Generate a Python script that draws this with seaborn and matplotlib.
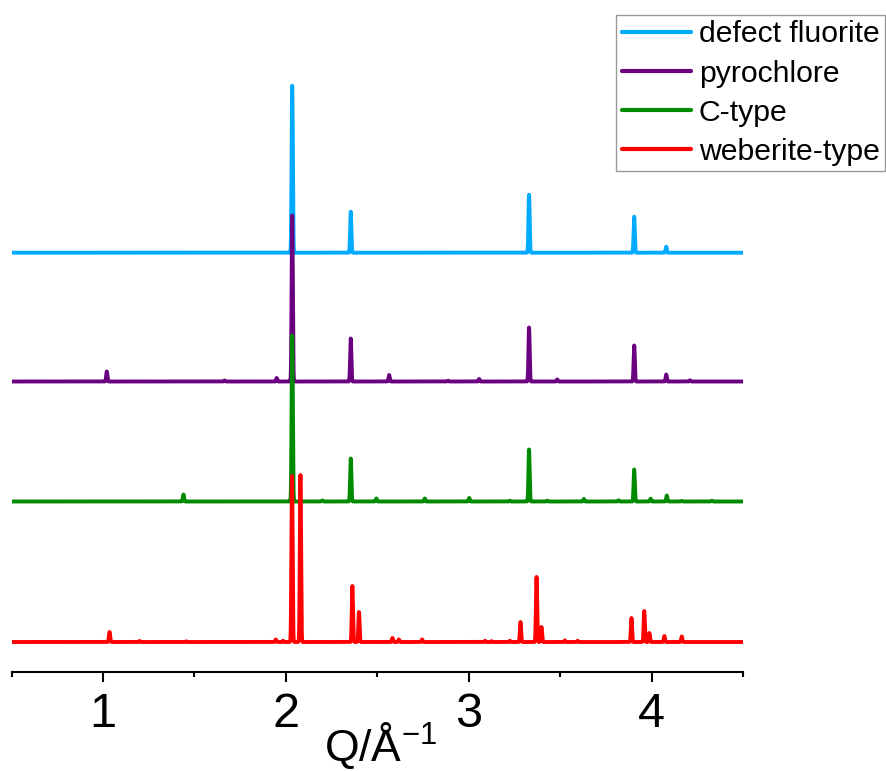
import numpy as np
import pandas as pd
import seaborn as sns
import matplotlib
matplotlib.use("Agg")
import matplotlib.pyplot as plt
from matplotlib.lines import Line2D
from matplotlib.ticker import MultipleLocator

# ---- data ----
phases = ["defect fluorite", "pyrochlore", "C-type", "weberite-type"]
colors = ["#00AAFF", "#6A0080", "#008A00", "#FF0000"]

# peak positions (Q, 1/Angstrom) and heights (arbitrary units)
fluorite_pos = [2.035, 2.355, 3.330, 3.905, 4.080]
fluorite_h = [167, 41, 58, 36, 6]

pyro_pos = [1.021, 1.665, 1.950, 2.035, 2.355, 2.565, 2.887, 3.057, 3.330, 3.484, 3.905, 4.080, 4.210]
pyro_h = [10, 1, 3.5, 166, 43, 6.5, 0.8, 2.5, 54, 2, 36, 7, 1.2]

ctype_pos = [1.440, 2.035, 2.200, 2.355, 2.495, 2.760, 3.003, 3.225, 3.330, 3.430, 3.630,
             3.820, 3.905, 3.995, 4.083, 4.165, 4.330]
ctype_h = [7, 166, 1, 43, 3, 3, 3.5, 0.8, 52, 0.8, 2.5, 1.2, 32, 2.8, 6, 0.6, 0.8]

weber_pos = [1.036, 1.200, 1.456, 1.945, 1.985, 2.034, 2.080, 2.364, 2.400, 2.583, 2.618,
             2.745, 3.090, 3.125, 3.225, 3.283, 3.371, 3.398, 3.526, 3.595, 3.890, 3.960,
             3.988, 4.070, 4.165]
weber_h = [10, 1, 0.6, 2.5, 1.2, 166, 167, 56, 30, 4, 2.5, 2.5, 1.2, 0.8, 1.2, 20, 65, 15,
           1.5, 1.2, 24, 31, 9, 6, 5.5]

offsets = [419.6, 290.8, 170.8, 30.3]

x_ticks = [1, 2, 3, 4]
x_label = "Q/Å$^{\\mathregular{-1}}$"

# ---- build profiles ----
q = np.arange(0.5, 4.5 + 1e-9, 0.0005)
sigma = 0.0032


def profile(pos, h):
    y = np.zeros_like(q)
    for p, a in zip(pos, h):
        y += a * np.exp(-0.5 * ((q - p) / sigma) ** 2)
    return y


peak_sets = [(fluorite_pos, fluorite_h), (pyro_pos, pyro_h),
             (ctype_pos, ctype_h), (weber_pos, weber_h)]
frames = []
for name, (pos, h), off in zip(phases, peak_sets, offsets):
    frames.append(pd.DataFrame({"Q": q, "I": profile(pos, h) + off, "phase": name}))
long = pd.concat(frames, ignore_index=True)

# ---- plot ----
sns.set_theme(style="white")
plt.rcParams["font.family"] = ["Liberation Sans", "DejaVu Sans"]
plt.rcParams["mathtext.fontset"] = "custom"
plt.rcParams["mathtext.rm"] = "Liberation Sans"
plt.rcParams["mathtext.it"] = "Liberation Sans"
plt.rcParams["text.color"] = "black"
plt.rcParams["axes.labelcolor"] = "black"
plt.rcParams["xtick.color"] = "black"
plt.rcParams["xtick.labelcolor"] = "black"

W, H = 886, 771
fig = plt.figure(figsize=(W / 100, H / 100), dpi=100)
ax = fig.add_axes([11.5 / W, (H - 672.3) / H, (743 - 11.5) / W, 672.3 / H])

sns.lineplot(data=long, x="Q", y="I", hue="phase", hue_order=phases,
             palette=dict(zip(phases, colors)), estimator=None, sort=False,
             linewidth=2.8, legend=False, ax=ax)

ax.set_xlim(0.5, 4.5)
ax.set_ylim(0, 672.3)
for s in ["left", "right", "top"]:
    ax.spines[s].set_visible(False)
ax.spines["bottom"].set_color("black")
ax.spines["bottom"].set_linewidth(1.5)
ax.set_yticks([])
ax.set_ylabel("")
ax.set_xticks(x_ticks)
ax.set_xticklabels([str(t) for t in x_ticks])
ax.xaxis.set_minor_locator(MultipleLocator(0.5))
ax.tick_params(axis="x", which="major", direction="out", length=7, width=1.5,
               color="black", labelcolor="black", labelsize=35, pad=7, bottom=True)
ax.tick_params(axis="x", which="minor", direction="out", length=3.5, width=1.5,
               color="black", bottom=True)
ax.set_xlabel(x_label, fontsize=32, color="black")
ax.xaxis.set_label_coords(0.505, -0.1325)
ax.xaxis.label.set_verticalalignment("baseline")

handles = [Line2D([], [], color=c, lw=3) for c in colors]
leg = fig.legend(handles, phases, loc="upper right",
                 bbox_to_anchor=(885 / W, 1 - 15 / H), fontsize=21.7,
                 frameon=True, fancybox=False, edgecolor="#808080",
                 handlelength=2.3, handletextpad=0.25, labelspacing=0.37,
                 borderpad=0.18, borderaxespad=0)
leg.get_frame().set_linewidth(1.0)
for t in leg.get_texts():
    t.set_color("black")

fig.savefig("out.png", dpi=100)
